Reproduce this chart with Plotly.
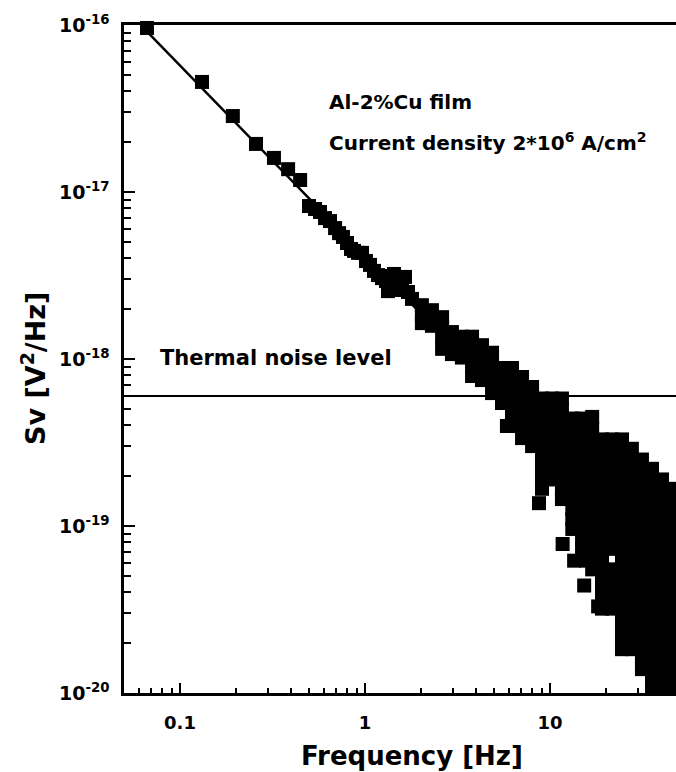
import plotly.graph_objects as go

# ---------------- data ----------------
# individual points at low frequency + the narrow band up to ~1.8 Hz
low_freq = [0.0663, 0.1315, 0.193, 0.2575, 0.322, 0.384, 0.446, 0.498, 0.537, 0.571,
            0.608, 0.647, 0.689, 0.724, 0.760, 0.799, 0.840, 0.872, 0.917, 0.963,
            1.012, 1.064, 1.118, 1.176, 1.236, 1.299, 1.365, 1.435, 1.331, 1.508,
            1.585, 1.645, 1.708, 1.795]
low_sv = [9.6e-17, 4.56e-17, 2.85e-17, 1.94e-17, 1.60e-17, 1.37e-17, 1.18e-17, 8.24e-18, 7.91e-18, 7.59e-18,
          6.98e-18, 6.70e-18, 6.08e-18, 5.67e-18, 5.38e-18, 4.95e-18, 4.56e-18, 4.44e-18, 4.32e-18, 4.32e-18,
          3.86e-18, 3.66e-18, 3.37e-18, 3.18e-18, 3.05e-18, 2.93e-18, 3.14e-18, 3.23e-18, 2.55e-18, 2.85e-18,
          2.59e-18, 3.10e-18, 2.52e-18, 2.29e-18]

# band 2 - 8 Hz: frequency and the Sv values seen at that frequency
band_freq = [2.03, 2.30, 2.61, 2.95, 3.34, 3.79, 4.29, 4.86, 5.50, 5.85, 6.23, 6.56, 7.06, 8.00]
band_sv = [
    [2.10e-18, 1.83e-18, 1.64e-18],
    [1.96e-18, 1.74e-18, 1.58e-18],
    [1.78e-18, 1.56e-18, 1.36e-18, 1.15e-18],
    [1.45e-18, 1.25e-18, 1.07e-18],
    [1.36e-18, 1.18e-18, 1.02e-18],
    [1.36e-18, 1.18e-18, 1.02e-18, 8.95e-19, 7.91e-19],
    [1.21e-18, 1.06e-18, 9.2e-19, 8.02e-19, 7.48e-19],
    [1.09e-18, 9.46e-19, 8.24e-19, 7.18e-19, 6.25e-19],
    [8.83e-19, 7.69e-19, 6.70e-19, 5.84e-19, 5.45e-19],
    [3.97e-19],
    [8.83e-19, 7.69e-19, 6.70e-19, 5.84e-19, 5.09e-19, 4.44e-19],
    [3.97e-19],
    [7.80e-19, 6.80e-19, 5.92e-19, 5.16e-19, 4.50e-19, 3.92e-19, 3.36e-19],
    [6.80e-19, 5.92e-19, 5.16e-19, 4.50e-19, 3.92e-19, 3.41e-19, 3.01e-19],
]

# dense cloud above ~9 Hz
cloud_freq = [9.05, 10.25, 11.6, 13.2, 14.9, 16.9, 19.1, 21.6, 24.5, 27.7, 31.4, 35.6, 40.3, 45.6]
cloud_sv = [
    [5.8e-19, 5.0e-19, 4.4e-19, 3.8e-19, 3.3e-19, 2.9e-19, 2.5e-19, 2.2e-19, 1.9e-19, 1.67e-19],
    [5.8e-19, 5.0e-19, 4.4e-19, 3.8e-19, 3.3e-19, 2.9e-19, 2.5e-19, 2.2e-19, 1.9e-19],
    [5.8e-19, 5.0e-19, 4.4e-19, 3.8e-19, 3.3e-19, 2.9e-19, 2.5e-19, 2.2e-19, 1.9e-19, 1.67e-19, 1.45e-19],
    [4.4e-19, 3.8e-19, 3.3e-19, 2.9e-19, 2.5e-19, 2.2e-19, 1.9e-19, 1.67e-19, 1.45e-19, 1.26e-19, 1.1e-19, 9.6e-20],
    [4.4e-19, 3.8e-19, 3.3e-19, 2.9e-19, 2.5e-19, 2.2e-19, 1.9e-19, 1.67e-19, 1.45e-19, 1.26e-19, 1.1e-19, 9.6e-20,
     8.4e-20, 7.3e-20],
    [4.5e-19, 3.8e-19, 3.3e-19, 2.9e-19, 2.5e-19, 2.2e-19, 1.9e-19, 1.67e-19, 1.45e-19, 1.26e-19, 1.1e-19, 9.6e-20,
     8.4e-20, 7.3e-20, 6.3e-20, 5.5e-20],
    [3.3e-19, 2.9e-19, 2.5e-19, 2.2e-19, 1.9e-19, 1.67e-19, 1.45e-19, 1.26e-19, 1.1e-19, 9.6e-20, 8.4e-20, 7.3e-20,
     6.3e-20, 5.5e-20, 4.8e-20, 4.2e-20, 3.7e-20, 3.2e-20],
    [3.3e-19, 2.9e-19, 2.5e-19, 2.2e-19, 1.9e-19, 1.67e-19, 1.45e-19, 1.26e-19, 1.1e-19, 9.6e-20, 8.4e-20, 7.3e-20,
     5.5e-20, 4.8e-20, 4.2e-20, 3.7e-20, 3.2e-20],
    [3.3e-19, 2.9e-19, 2.5e-19, 2.2e-19, 1.9e-19, 1.67e-19, 1.45e-19, 1.26e-19, 1.1e-19, 9.6e-20, 8.4e-20, 7.3e-20,
     6.3e-20, 5.5e-20, 4.8e-20, 4.2e-20, 3.7e-20, 3.2e-20, 2.8e-20, 2.4e-20, 2.1e-20, 1.83e-20],
    [2.9e-19, 2.5e-19, 2.2e-19, 1.9e-19, 1.67e-19, 1.45e-19, 1.26e-19, 1.1e-19, 9.6e-20, 8.4e-20, 7.3e-20,
     6.3e-20, 5.5e-20, 4.8e-20, 4.2e-20, 3.7e-20, 3.2e-20, 2.8e-20, 2.4e-20, 2.1e-20, 1.83e-20],
    [2.5e-19, 2.2e-19, 1.9e-19, 1.67e-19, 1.45e-19, 1.26e-19, 1.1e-19, 9.6e-20, 8.4e-20, 7.3e-20,
     6.3e-20, 5.5e-20, 4.8e-20, 4.2e-20, 3.7e-20, 3.2e-20, 2.8e-20, 2.4e-20, 2.1e-20, 1.83e-20, 1.6e-20, 1.39e-20],
    [2.2e-19, 1.9e-19, 1.67e-19, 1.45e-19, 1.26e-19, 1.1e-19, 9.6e-20, 8.4e-20, 7.3e-20,
     6.3e-20, 5.5e-20, 4.8e-20, 4.2e-20, 3.7e-20, 3.2e-20, 2.8e-20, 2.4e-20, 2.1e-20, 1.83e-20, 1.6e-20, 1.39e-20,
     1.21e-20, 1.09e-20],
    [1.9e-19, 1.67e-19, 1.45e-19, 1.26e-19, 1.1e-19, 9.6e-20, 8.4e-20, 7.3e-20,
     6.3e-20, 5.5e-20, 4.8e-20, 4.2e-20, 3.7e-20, 3.2e-20, 2.8e-20, 2.4e-20, 2.1e-20, 1.83e-20, 1.6e-20, 1.39e-20,
     1.21e-20, 1.09e-20],
    [1.67e-19, 1.45e-19, 1.26e-19, 1.1e-19, 9.6e-20, 8.4e-20, 7.3e-20,
     6.3e-20, 5.5e-20, 4.8e-20, 4.2e-20, 3.7e-20, 3.2e-20, 2.8e-20, 2.4e-20, 2.1e-20, 1.83e-20, 1.6e-20, 1.39e-20,
     1.21e-20, 1.09e-20],
]

# scattered outliers at the lower-left edge of the cloud
outlier_freq = [8.72, 11.7, 13.5, 15.7, 15.3, 18.2]
outlier_sv = [1.37e-19, 7.8e-20, 6.2e-20, 6.2e-20, 4.4e-20, 3.3e-20]

# power-law fit line and thermal noise level
fit_freq = [0.064, 45.0]
fit_sv = [9.5e-17, 5.4e-20]
thermal_freq = [0.04, 60.0]
thermal_sv = [6.0e-19, 6.0e-19]

# tick labels
x_tickvals = [0.1, 1, 10]
x_ticktext = ["0.1", "1", "10"]
y_tickvals = [1e-20, 1e-19, 1e-18, 1e-17, 1e-16]
y_ticktext = ["10<sup>-20</sup>", "10<sup>-19</sup>", "10<sup>-18</sup>", "10<sup>-17</sup>", "10<sup>-16</sup>"]

# ---------------- assemble points ----------------
pts_f = list(low_freq)
pts_s = list(low_sv)
for f, svs in zip(band_freq, band_sv):
    pts_f += [f] * len(svs)
    pts_s += svs
for f, svs in zip(cloud_freq, cloud_sv):
    pts_f += [f] * len(svs)
    pts_s += svs
pts_f += outlier_freq
pts_s += outlier_sv

FONT = "DejaVu Sans"

fig = go.Figure()
fig.add_trace(go.Scatter(x=thermal_freq, y=thermal_sv, mode="lines",
                         line=dict(color="black", width=2), hoverinfo="skip"))
fig.add_trace(go.Scatter(x=fit_freq, y=fit_sv, mode="lines",
                         line=dict(color="black", width=2.5), hoverinfo="skip"))
fig.add_trace(go.Scatter(x=pts_f, y=pts_s, mode="markers", cliponaxis=False,
                         marker=dict(symbol="square", size=14, color="black", line=dict(width=0))))

minor_x = [v * 10 ** k for k in (-2, -1, 0, 1) for v in range(2, 10)]
minor_y = [v * 10.0 ** k for k in (-20, -19, -18, -17) for v in range(2, 10)]

fig.update_layout(
    width=676, height=772,
    margin=dict(l=124, r=0, t=25, b=79),
    paper_bgcolor="white", plot_bgcolor="white",
    showlegend=False,
    font=dict(family=FONT, color="black", weight="bold"),
    xaxis=dict(
        type="log", range=[-1.3027, 1.681],
        showline=True, linewidth=2.5, linecolor="black", mirror=True,
        showgrid=False, zeroline=False,
        ticks="inside", ticklen=10, tickwidth=2, tickcolor="black",
        tickmode="array", tickvals=x_tickvals, ticktext=x_ticktext,
        tickfont=dict(family=FONT, size=18, color="black", weight="bold"),
        ticklabelstandoff=12,
        minor=dict(ticks="inside", ticklen=5, tickwidth=1.5, tickcolor="black",
                   tickmode="array", tickvals=minor_x, showgrid=False),
    ),
    yaxis=dict(
        type="log", range=[-20, -16],
        showline=True, linewidth=2.5, linecolor="black", mirror=False,
        showgrid=False, zeroline=False,
        ticks="inside", ticklen=11, tickwidth=2, tickcolor="black",
        tickmode="array", tickvals=y_tickvals, ticktext=y_ticktext,
        tickfont=dict(family=FONT, size=19, color="black", weight="bold"),
        ticklabelstandoff=8,
        minor=dict(ticks="inside", ticklen=7, tickwidth=1.5, tickcolor="black",
                   tickmode="array", tickvals=minor_y, showgrid=False),
    ),
)

ann_font = dict(family=FONT, color="black", weight="bold")
fig.add_annotation(xref="paper", yref="paper", x=0.3678, y=0.8847, xanchor="left", yanchor="middle",
                   text="Al-2%Cu film", showarrow=False, font=dict(size=20, **ann_font))
fig.add_annotation(xref="paper", yref="paper", x=0.3678, y=0.8249, xanchor="left", yanchor="middle",
                   text="Current density 2*10<sup>6</sup> A/cm<sup>2</sup>", showarrow=False,
                   font=dict(size=20, **ann_font))
fig.add_annotation(xref="paper", yref="paper", x=0.0616, y=0.5015, xanchor="left", yanchor="middle",
                   text="Thermal noise level", showarrow=False, font=dict(size=21, **ann_font))
fig.add_annotation(xref="paper", yref="paper", x=0.5217, y=-0.0943, xanchor="center", yanchor="middle",
                   text="Frequency [Hz]", showarrow=False, font=dict(size=26, **ann_font))
fig.add_annotation(xref="paper", yref="paper", x=-0.1649, y=0.4865, xanchor="center", yanchor="middle",
                   text="Sv [V<sup>2</sup>/Hz]", textangle=-90, showarrow=False, font=dict(size=27, **ann_font))

fig.write_html("out.html")
